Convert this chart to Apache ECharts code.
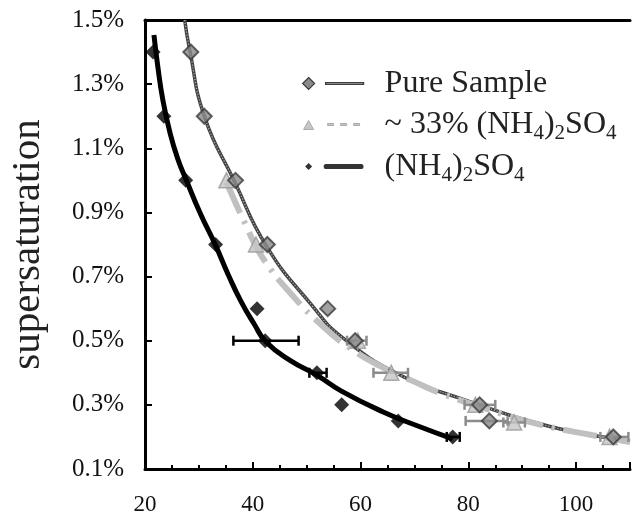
<!DOCTYPE html>
<html style="height: 100%">
<head>
<meta charset="utf-8">
<title>supersaturation</title>
</head>
<body style="height: 100%; margin: 0; background: #fff">
<div id="container" style="width: 632px; height: 516px"></div>
<script type="text/javascript" src="https://cdn.jsdelivr.net/npm/echarts@6/dist/echarts.min.js"></script>
<script type="text/javascript">
// measured points (x = diameter, y = supersaturation in %)
var pureX = [28.5, 31.0, 36.8, 42.7, 53.9, 59.0, 82.1, 83.9, 106.9];
var pureY = [1.4, 1.2, 1.0, 0.8, 0.6, 0.5, 0.3, 0.25, 0.2];
var midX = [35.1, 40.6, 59.5, 65.7, 81.3, 88.5, 106.2];
var midY = [1.0, 0.8, 0.5, 0.4, 0.3, 0.245, 0.2];
var ammX = [21.5, 23.5, 27.55, 33.1, 40.8, 42.3, 51.9, 56.5, 67.0, 77.1];
var ammY = [1.4, 1.2, 1.0, 0.8, 0.6, 0.5, 0.4, 0.3, 0.25, 0.2];

// fitted curves
var pureFitX = [27.37, 28.29, 31.05, 36.57, 42.65, 50.94, 56.46, 67.33, 78.38, 95.5, 108.4, 110];
var pureFitY = [1.5, 1.407, 1.198, 0.998, 0.792, 0.611, 0.512, 0.393, 0.321, 0.231, 0.19, 0.186];
var midFitX = [35.1, 38.97, 41.73, 47.62, 53.15, 58.31, 63.65, 69.72, 75.25, 86.3, 93.66, 102.87, 110];
var midFitY = [0.995, 0.851, 0.761, 0.636, 0.543, 0.474, 0.421, 0.374, 0.334, 0.272, 0.237, 0.206, 0.184];
var ammFitX = [21.66, 22.39, 23.31, 24.6, 26.08, 27.73, 30.31, 33.08, 35.47, 37.86, 40.26, 42.47, 47.07, 51.86, 56.46, 64.2, 70.64, 77.09];
var ammFitY = [1.453, 1.353, 1.251, 1.151, 1.067, 0.998, 0.895, 0.798, 0.705, 0.621, 0.552, 0.496, 0.437, 0.393, 0.343, 0.278, 0.234, 0.194];

// horizontal error bars: [x, y, low, high]
var ammErr = [[42.3, 0.5, 36.4, 48.5], [51.9, 0.4, 50.5, 53.7], [77.1, 0.2, 76.0, 78.4]];
var greyErr = [[59.0, 0.5, 57.5, 61.1], [65.7, 0.4, 62.4, 68.8], [81.3, 0.3, 79.3, 85.0],
               [83.9, 0.25, 79.5, 87.3], [88.5, 0.245, 86.5, 90.5], [106.9, 0.2, 104.5, 109.7]];

var xTicks = [20, 40, 60, 80, 100];
var yTicks = [0.1, 0.3, 0.5, 0.7, 0.9, 1.1, 1.3, 1.5];

function zip(xs, ys) {
    var out = [];
    for (var i = 0; i < xs.length; i++) out.push([xs[i], ys[i]]);
    return out;
}

function renderErr(params, api) {
    var y = api.value(1);
    var a = api.coord([api.value(2), y]);
    var b = api.coord([api.value(3), y]);
    var st = api.style({ stroke: api.visual('color'), lineWidth: 2.5 });
    return {
        type: 'group',
        children: [
            { type: 'line', shape: { x1: a[0], y1: a[1], x2: b[0], y2: b[1] }, style: st },
            { type: 'line', shape: { x1: a[0], y1: a[1] - 5, x2: a[0], y2: a[1] + 5 }, style: st },
            { type: 'line', shape: { x1: b[0], y1: b[1] - 5, x2: b[0], y2: b[1] + 5 }, style: st }
        ]
    };
}

var serif = "'Liberation Serif', 'Times New Roman', serif";
var pureName = 'Pure Sample';
var midName = '~ 33% (NH4)2SO4';
var ammName = '(NH4)2SO4';

var pureItem = { color: '#8a8a8a', borderColor: '#3c3c3c', borderWidth: 2 };
var midItem = { color: '#c6c6c6', borderColor: '#999', borderWidth: 1.5 };
var ammItem = { color: '#000' };

// legend icons: marker on the left, line sample on the right (63 x 14 box)
var corners = 'M0,0 L0,0 M63,14 L63,14 ';
var pureIcon = 'path://' + corners + 'M8,1 L14,7 L8,13 L2,7 Z M25,6 L63,6 L63,8 L25,8 Z';
var midIcon = 'path://' + corners + 'M3,12 L8,3 L13,12 Z M27,6 L33,6 L33,8 L27,8 Z M40,6 L46,6 L46,8 L40,8 Z M53,6 L59,6 L59,8 L53,8 Z';
var ammIcon = 'path://' + corners + 'M8,3.5 L11.5,7 L8,10.5 L4.5,7 Z M25,4.5 L61,4.5 Q63,4.5 63,7 Q63,9.5 61,9.5 L25,9.5 Q23,9.5 23,7 Q23,4.5 25,4.5 Z';

var myChart = echarts.init(document.getElementById('container'));
var option = {
    animation: false,
    grid: { left: 141, top: 20, right: 2, bottom: 47 },
    legend: {
        orient: 'vertical',
        left: 300,
        top: 65,
        padding: 0,
        itemWidth: 63,
        itemHeight: 14,
        itemGap: 4,
        data: [
            { name: pureName, icon: pureIcon, itemStyle: { color: '#8a8a8a', borderColor: '#3c3c3c', borderWidth: 1.2 } },
            { name: midName, icon: midIcon, itemStyle: { color: '#c6c6c6', borderColor: '#aaa', borderWidth: 1 } },
            { name: ammName, icon: ammIcon, itemStyle: { color: '#000', borderWidth: 0 } }
        ],
        formatter: function (name) {
            if (name === midName) return '~ 33% (NH{s|4}){s|2}SO{s|4}';
            if (name === ammName) return '(NH{s|4}){s|2}SO{s|4}';
            return name;
        },
        textStyle: {
            fontFamily: serif,
            fontSize: 32,
            lineHeight: 37,
            color: '#222',
            padding: [0, 0, 0, 16],
            rich: {
                s: { fontFamily: serif, fontSize: 21, color: '#222', verticalAlign: 'top', padding: [17, 0, 0, 0] }
            }
        }
    },
    xAxis: [{
        type: 'value',
        min: 20,
        max: 110,
        interval: 20,
        axisLine: { lineStyle: { color: '#000', width: 3 } },
        axisTick: { inside: true, length: 7, lineStyle: { color: '#000', width: 2 } },
        minorTick: { show: true, splitNumber: 4, length: 4, lineStyle: { color: '#000', width: 2 } },
        splitLine: { show: false },
        axisLabel: {
            showMaxLabel: false,
            margin: 24,
            fontFamily: serif,
            fontSize: 23,
            color: '#111',
            formatter: function (v) { return xTicks.indexOf(v) >= 0 ? String(v) : ''; }
        }
    }, {
        type: 'value',
        position: 'top',
        min: 20,
        max: 110,
        axisLine: { show: true, lineStyle: { color: '#000', width: 3 } },
        axisTick: { show: false },
        axisLabel: { show: false },
        splitLine: { show: false }
    }],
    yAxis: {
        type: 'value',
        min: 0.1,
        max: 1.5,
        interval: 0.2,
        name: 'supersaturation',
        nameLocation: 'middle',
        nameGap: 96,
        nameTextStyle: { fontFamily: serif, fontSize: 41, color: '#222' },
        axisLine: { show: true, lineStyle: { color: '#000', width: 3 } },
        axisTick: { inside: true, length: 7, lineStyle: { color: '#000', width: 2 } },
        splitLine: { show: false },
        axisLabel: {
            margin: 21,
            fontFamily: serif,
            fontSize: 25,
            color: '#111',
            formatter: function (v) {
                var r = Math.round(v * 10) / 10;
                return yTicks.indexOf(r) >= 0 ? r.toFixed(1) + '%' : '';
            }
        }
    },
    series: [
        {
            name: pureName,
            type: 'line',
            smooth: true,
            symbol: 'none',
            itemStyle: pureItem,
            lineStyle: { color: '#444', width: 3.5 },
            data: zip(pureFitX, pureFitY),
            z: 2
        },
        {
            name: 'pureDots',
            type: 'line',
            smooth: true,
            symbol: 'none',
            lineStyle: { color: '#c4c4c4', width: 1.2, type: [1, 2] },
            data: zip(pureFitX, pureFitY),
            z: 3
        },
        {
            name: midName,
            type: 'line',
            smooth: true,
            symbol: 'none',
            itemStyle: midItem,
            lineStyle: { color: '#c0c0c0', width: 6, type: [34, 9, 3, 9] },
            data: zip(midFitX, midFitY),
            z: 4
        },
        {
            name: 'greyErr',
            type: 'custom',
            renderItem: renderErr,
            itemStyle: { color: '#8c8c8c' },
            data: greyErr,
            z: 5
        },
        {
            name: midName,
            type: 'scatter',
            symbol: 'triangle',
            symbolSize: 15,
            itemStyle: midItem,
            data: zip(midX, midY),
            z: 6
        },
        {
            name: pureName,
            type: 'scatter',
            symbol: 'diamond',
            symbolSize: 15,
            itemStyle: pureItem,
            data: zip(pureX, pureY),
            z: 7
        },
        {
            name: 'ammErr',
            type: 'custom',
            renderItem: renderErr,
            itemStyle: { color: '#000' },
            data: ammErr,
            z: 8
        },
        {
            name: ammName,
            type: 'scatter',
            symbol: 'diamond',
            symbolSize: 15,
            itemStyle: ammItem,
            data: zip(ammX, ammY),
            z: 9
        },
        {
            name: ammName,
            type: 'line',
            smooth: true,
            symbol: 'none',
            itemStyle: ammItem,
            lineStyle: { color: '#000', width: 5 },
            data: zip(ammFitX, ammFitY),
            z: 10
        }
    ]
};
myChart.setOption(option);
</script>
</body>
</html>
